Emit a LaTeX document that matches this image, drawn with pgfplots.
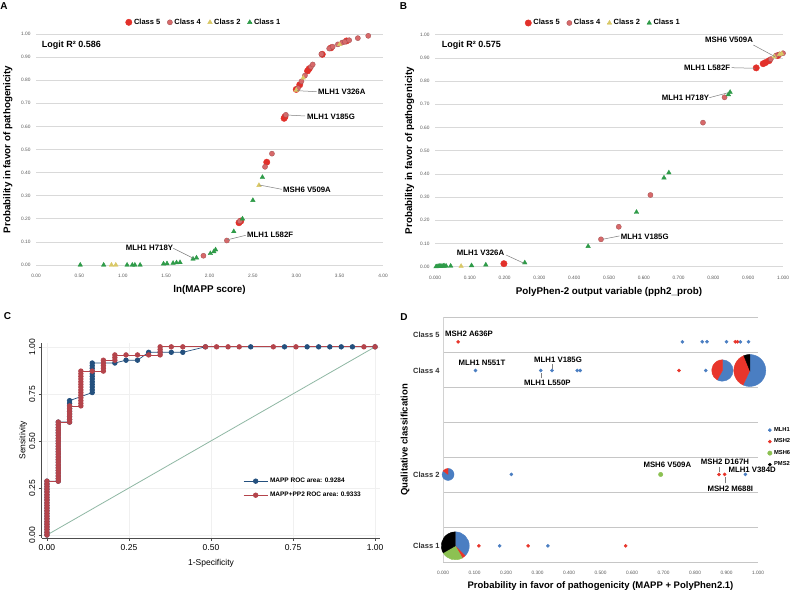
\documentclass[border=0pt]{standalone}
\usepackage{pgfplots}
\pgfplotsset{compat=1.18}
\usepackage{fontspec}
\setmainfont{Liberation Sans}

\definecolor{cfive}{HTML}{E2302A}
\definecolor{cfour}{HTML}{D7696A}
\definecolor{ctwo}{HTML}{D9C866}
\definecolor{cone}{HTML}{2E9B48}
\definecolor{gridc}{HTML}{D9D9D9}
\definecolor{tickc}{HTML}{595959}
\definecolor{rocblue}{HTML}{24507E}
\definecolor{rocred}{HTML}{B4444B}
\definecolor{diagc}{HTML}{8FB8A4}
\definecolor{dblue}{HTML}{4A7EC2}
\definecolor{dred}{HTML}{E8352B}
\definecolor{dgreen}{HTML}{8CC152}
\definecolor{leadc}{HTML}{7F7F7F}

\newcommand\tickfont{\fontsize{4.8}{5}\selectfont}
\newcommand\annfont{\bfseries\fontsize{7.8}{8}\selectfont}
\newcommand\pwedge[4]{\fill[#1] (0,0) -- (#2:#4) arc[start angle=#2, end angle=#3, radius=#4] -- cycle;}

\pgfdeclareplotmark{pieone}{\pwedge{dblue}{90}{-45}{14pt}\pwedge{dred}{-45}{-60}{14pt}\pwedge{dgreen}{-60}{-150}{14pt}\pwedge{black}{-150}{-270}{14pt}}
\pgfdeclareplotmark{pietwo}{\pwedge{dblue}{90}{-216}{6pt}\pwedge{dred}{-216}{-270}{6pt}}
\pgfdeclareplotmark{piefoura}{\pwedge{dblue}{90}{-119}{10.7pt}\pwedge{dred}{-119}{-270}{10.7pt}}
\pgfdeclareplotmark{piefourb}{\pwedge{dblue}{90}{-115}{16pt}\pwedge{dred}{-115}{-248}{16pt}\pwedge{black}{-248}{-270}{16pt}}

\pgfplotsset{
 /pgf/number format/assume math mode=true,
 excel/.style={scale only axis, clip=false, ymin=0, ymax=1,
  axis line style={draw=none}, tick style={draw=none},
  ymajorgrids, major grid style={draw=gridc, line width=0.6pt},
  ytick={0,0.1,0.2,0.3,0.4,0.5,0.6,0.7,0.8,0.9,1},
  yticklabel style={/pgf/number format/fixed, /pgf/number format/fixed zerofill, /pgf/number format/precision=2, xshift=-2pt},
  xticklabel style={yshift=-6pt},
  tick label style={font=\tickfont, text=tickc},
  label style={font=\bfseries\fontsize{9.8}{11}\selectfont},
  legend style={draw=none, fill=none, font=\bfseries\fontsize{7.5}{8}\selectfont, legend columns=4, /tikz/every even column/.append style={column sep=5pt}, inner sep=0pt},
  legend cell align=left,
  legend image code/.code={\path (-2pt,0pt) -- (2pt,0pt); \draw[##1] plot coordinates {(0pt,0pt)};},
 },
 c5/.style={only marks, mark=*, mark size=3.2pt, color=cfive},
 c4/.style={only marks, mark=*, mark size=2.6pt, color=cfour, mark options={draw=cfour!75!black, line width=0.3pt}},
 c2/.style={only marks, mark=triangle*, mark size=2.6pt, color=ctwo},
 c1/.style={only marks, mark=triangle*, mark size=2.6pt, color=cone},
}

\begin{document}
\begin{tikzpicture}
\useasboundingbox (0,0) rectangle (800pt,593pt);
\fill[white] (0,0) rectangle (800pt,593pt);

% ---------------- Panel A ----------------
\begin{axis}[excel, at={(36pt,328pt)}, anchor=south west, width=347pt, height=231pt,
 xmin=0, xmax=4, xtick={0,0.5,1,1.5,2,2.5,3,3.5,4},
 xticklabel style={/pgf/number format/fixed, /pgf/number format/fixed zerofill, /pgf/number format/precision=2},
 xlabel={ln(MAPP score)}, ylabel={Probability in favor of pathogenicity},
 xlabel style={at={(axis description cs:0.5,-0.108)}, anchor=center},
 ylabel style={at={(axis description cs:-0.081,0.5)}, anchor=center},
 legend style={at={(axis description cs:0.484,1.026)}, anchor=south}]
\addplot[c5] coordinates {(2.34,0.183) (2.36,0.19) (2.66,0.445) (2.86,0.635) (2.87,0.642) (3.00,0.760) (3.04,0.780) (3.13,0.840) (3.15,0.850) (3.30,0.912) (3.40,0.940) (3.58,0.970)};
\addlegendentry{Class 5}
\addplot[c4] coordinates {(1.93,0.040) (2.20,0.106) (2.35,0.19) (2.64,0.425) (2.72,0.482) (2.88,0.650) (3.02,0.765) (3.06,0.795) (3.10,0.820) (3.17,0.858) (3.19,0.868) (3.29,0.913) (3.38,0.937) (3.42,0.945) (3.48,0.955) (3.53,0.963) (3.56,0.966) (3.61,0.973) (3.71,0.982) (3.83,0.992)};
\addlegendentry{Class 4}
\addplot[c2] coordinates {(0.87,0) (0.92,0) (2.57,0.345) (3.00,0.757) (3.08,0.810) (3.50,0.955)};
\addlegendentry{Class 2}
\addplot[c1] coordinates {(0.51,0) (0.78,0) (1.05,0) (1.11,0) (1.14,0) (1.20,0) (1.47,0.005) (1.51,0.006) (1.58,0.008) (1.62,0.010) (1.66,0.011) (1.81,0.026) (1.85,0.031) (2.01,0.05) (2.05,0.058) (2.07,0.066) (2.28,0.145) (2.38,0.20) (2.50,0.28) (2.61,0.38)};
\addlegendentry{Class 1}
\end{axis}

% ---------------- Panel B ----------------
\begin{axis}[excel, at={(435pt,326.3pt)}, anchor=south west, width=348pt, height=232pt,
 xmin=0, xmax=1, xtick={0,0.1,0.2,0.3,0.4,0.5,0.6,0.7,0.8,0.9,1},
 xticklabel style={/pgf/number format/fixed, /pgf/number format/fixed zerofill, /pgf/number format/precision=3},
 xlabel={PolyPhen-2 output variable (pph2\_prob)}, ylabel={Probability in favor of pathogenicity},
 xlabel style={at={(axis description cs:0.5,-0.108)}, anchor=center},
 ylabel style={at={(axis description cs:-0.073,0.5)}, anchor=center},
 legend style={at={(axis description cs:0.484,1.026)}, anchor=south}]
\addplot[c5] coordinates {(0.198,0.013) (0.923,0.857) (0.943,0.875) (0.950,0.880) (0.960,0.888) (0.985,0.910)};
\addlegendentry{Class 5}
\addplot[c4] coordinates {(0.477,0.118) (0.528,0.172) (0.619,0.309) (0.770,0.621) (0.832,0.730) (0.965,0.895) (0.980,0.910) (0.990,0.915) (1.0,0.920)};
\addlegendentry{Class 4}
\addplot[c2] coordinates {(0.075,0.002) (0.975,0.905) (0.990,0.915) (0.996,0.918)};
\addlegendentry{Class 2}
\addplot[c1] coordinates {(0.003,0) (0.006,0.001) (0.010,0.001) (0.013,0.002) (0.016,0.002) (0.020,0.003) (0.024,0.003) (0.028,0.003) (0.032,0.003) (0.045,0.003) (0.105,0.005) (0.146,0.008) (0.258,0.017) (0.440,0.088) (0.579,0.235) (0.658,0.383) (0.672,0.405) (0.843,0.742) (0.848,0.752)};
\addlegendentry{Class 1}
\end{axis}

% ---------------- Panel C ----------------
\begin{axis}[scale only axis, clip=false, at={(41.7pt,55pt)}, anchor=south west, width=338.6pt, height=195.3pt,
 xmin=-0.016, xmax=1.016, ymin=-0.016, ymax=1.022,
 axis x line*=bottom, axis y line*=left, axis line style={draw=gray!60!black, line width=0.6pt, -},
 xtick={0,0.25,0.5,0.75,1}, ytick={0,0.25,0.5,0.75,1},
 tick align=outside, major tick length=3pt, tick style={gray!60!black, line width=0.6pt},
 grid=major, major grid style={draw=gray!12},
 tick label style={font=\fontsize{8.5}{9}\selectfont, /pgf/number format/fixed, /pgf/number format/fixed zerofill, /pgf/number format/precision=2},
 yticklabel style={rotate=90, anchor=south},
 xlabel={1-Specificity}, ylabel={Sensitivity}, label style={font=\fontsize{8.5}{9}\selectfont},
 xlabel style={at={(axis description cs:0.5,-0.128)}, anchor=center},
 ylabel style={at={(axis description cs:-0.055,0.5)}, anchor=center},
 legend style={at={(axis description cs:0.586,0.328)}, anchor=north west, draw=none, fill=none, font=\bfseries\fontsize{6.5}{7}\selectfont, row sep=4pt},
 legend cell align=left,
 legend image code/.code={\draw[mark repeat=2, mark phase=2, #1] plot coordinates {(0pt,0pt) (12pt,0pt) (24pt,0pt)};}]
\addplot[diagc, line width=0.8pt, forget plot] coordinates {(0,0) (1,1)};
\addplot[rocblue, line width=0.7pt, mark=*, mark size=2.3pt] coordinates {
(0,0) (0,0.014) (0,0.029) (0,0.043) (0,0.057) (0,0.071) (0,0.086) (0,0.1) (0,0.114) (0,0.129) (0,0.143) (0,0.157) (0,0.171) (0,0.186) (0,0.2) (0,0.214) (0,0.229) (0,0.243) (0,0.257) (0,0.271) (0,0.286)
(0.0345,0.286) (0.0345,0.3) (0.0345,0.314) (0.0345,0.329) (0.0345,0.343) (0.0345,0.357) (0.0345,0.371) (0.0345,0.386) (0.0345,0.4) (0.0345,0.414) (0.0345,0.429) (0.0345,0.443) (0.0345,0.457) (0.0345,0.471) (0.0345,0.486) (0.0345,0.5) (0.0345,0.514) (0.0345,0.529) (0.0345,0.543) (0.0345,0.557) (0.0345,0.571) (0.0345,0.586) (0.0345,0.6)
(0.069,0.6) (0.069,0.614) (0.069,0.629) (0.069,0.643) (0.069,0.657) (0.069,0.671) (0.069,0.686) (0.069,0.7) (0.069,0.714)
(0.138,0.757) (0.138,0.771) (0.138,0.786) (0.138,0.8) (0.138,0.814) (0.138,0.829) (0.138,0.843) (0.138,0.857) (0.138,0.871) (0.138,0.886) (0.138,0.9) (0.138,0.914)
(0.207,0.914) (0.241,0.929) (0.276,0.929) (0.310,0.971) (0.345,0.971) (0.379,0.971) (0.414,0.971) (0.483,1) (0.621,1) (0.724,1) (0.793,1) (0.828,1) (0.862,1) (0.897,1) (0.931,1) (1,1)};
\addlegendentry{MAPP ROC area: 0.9284}
\addplot[rocred, line width=0.7pt, mark=*, mark size=2.3pt] coordinates {
(0,0) (0,0.014) (0,0.029) (0,0.043) (0,0.057) (0,0.071) (0,0.086) (0,0.1) (0,0.114) (0,0.129) (0,0.143) (0,0.157) (0,0.171) (0,0.186) (0,0.2) (0,0.214) (0,0.229) (0,0.243) (0,0.257) (0,0.271) (0,0.286)
(0.0345,0.286) (0.0345,0.3) (0.0345,0.314) (0.0345,0.329) (0.0345,0.343) (0.0345,0.357) (0.0345,0.371) (0.0345,0.386) (0.0345,0.4) (0.0345,0.414) (0.0345,0.429) (0.0345,0.443) (0.0345,0.457) (0.0345,0.471) (0.0345,0.486) (0.0345,0.5) (0.0345,0.514) (0.0345,0.529) (0.0345,0.543) (0.0345,0.557) (0.0345,0.571) (0.0345,0.586) (0.0345,0.6)
(0.069,0.6) (0.069,0.614) (0.069,0.629) (0.069,0.643) (0.069,0.657) (0.069,0.671) (0.069,0.686)
(0.1034,0.686) (0.1034,0.7) (0.1034,0.714) (0.1034,0.729) (0.1034,0.743) (0.1034,0.757) (0.1034,0.771) (0.1034,0.786) (0.1034,0.8) (0.1034,0.814) (0.1034,0.829) (0.1034,0.843) (0.1034,0.857) (0.1034,0.871)
(0.138,0.871) (0.172,0.871) (0.172,0.886) (0.172,0.9) (0.172,0.914) (0.172,0.929)
(0.207,0.929) (0.207,0.943) (0.207,0.957) (0.241,0.957) (0.276,0.957) (0.310,0.957)
(0.345,0.957) (0.345,0.971) (0.345,0.986) (0.345,1) (0.379,1) (0.414,1) (0.483,1) (0.517,1) (0.552,1) (0.586,1) (0.690,1) (0.759,1) (0.966,1) (1,1)};
\addlegendentry{MAPP+PP2 ROC area: 0.9333}
\end{axis}

% ---------------- Panel D ----------------
\begin{axis}[scale only axis, clip=false, at={(443pt,30.7pt)}, anchor=south west, width=315pt, height=245pt,
 xmin=0, xmax=1, ymin=0, ymax=7,
 axis line style={draw=none}, tick style={draw=none},
 xtick={0,0.1,0.2,0.3,0.4,0.5,0.6,0.7,0.8,0.9,1},
 xticklabel style={/pgf/number format/fixed, /pgf/number format/fixed zerofill, /pgf/number format/precision=3, yshift=-5.5pt},
 ytick={0,1,2,3,4,5,6,7}, yticklabels={,,,,,,,},
 ymajorgrids, major grid style={draw=gray!45, line width=0.6pt},
 extra y ticks={0.47,2.51,5.48,6.51}, extra y tick labels={Class 1,Class 2,Class 4,Class 5},
 extra y tick style={major grid style={draw=none}, yticklabel style={font=\bfseries\fontsize{7.5}{8}\selectfont, text=black!80}},
 extra x ticks={0}, extra x tick labels={}, extra x tick style={xmajorgrids=true, major grid style={draw=gray!35, line width=0.6pt}},
 tick label style={font=\tickfont, text=tickc},
 xlabel={Probability in favor of pathogenicity (MAPP + PolyPhen2.1)}, ylabel={Qualitative classification},
 label style={font=\bfseries\fontsize{9.5}{11}\selectfont},
 xlabel style={at={(axis description cs:0.5,-0.097)}, anchor=center},
 ylabel style={at={(axis description cs:-0.12,0.5)}, anchor=center},
 legend style={at={(axis description cs:1.03,0.56)}, anchor=north west, draw=none, fill=none, font=\bfseries\fontsize{5.8}{6}\selectfont, row sep=2pt, inner sep=0pt},
 legend cell align=left,
 legend image code/.code={\path (-1.5pt,0pt) -- (1.5pt,0pt); \draw[#1] plot coordinates {(0pt,0pt)};}]
\addplot[only marks, mark=*, mark size=1.6pt, color=dblue] coordinates {(0.760,6.3) (0.823,6.3) (0.838,6.3) (0.900,6.3) (0.944,6.3) (0.970,6.3) (0.103,5.48) (0.310,5.48) (0.346,5.48) (0.426,5.48) (0.436,5.48) (0.834,5.48) (0.217,2.51) (0.960,2.51) (0.180,0.47) (0.333,0.47)};
\addlegendentry{MLH1}
\addplot[only marks, mark=*, mark size=1.6pt, color=dred] coordinates {(0.048,6.3) (0.928,6.3) (0.935,6.3) (0.749,5.48) (0.876,2.51) (0.894,2.51) (0.114,0.47) (0.270,0.47) (0.580,0.47)};
\addlegendentry{MSH2}
\addplot[only marks, mark=*, mark size=2.2pt, color=dgreen] coordinates {(0.691,2.51)};
\addlegendentry{MSH6}
\addlegendimage{only marks, mark=*, mark size=1.6pt, black}
\addlegendentry{PMS2}
\addplot[only marks, mark=pieone, forget plot] coordinates {(0.039,0.47)};
\addplot[only marks, mark=pietwo, forget plot] coordinates {(0.016,2.51)};
\addplot[only marks, mark=piefoura, forget plot] coordinates {(0.887,5.48)};
\addplot[only marks, mark=piefourb, forget plot] coordinates {(0.974,5.48)};
\end{axis}

% ---------------- annotations ----------------
\begin{scope}[every node/.style={font=\annfont, inner sep=0pt}]
% A
\node[font=\bfseries\fontsize{10}{11}\selectfont] at (4pt,587pt) {A};
\node[anchor=west, font=\bfseries\fontsize{9}{10}\selectfont] at (41.7pt,547.3pt) {Logit R² 0.586};
\draw[leadc, line width=0.5pt] (297pt,502.3pt) -- (316.7pt,501.3pt);
\node[anchor=west] at (318pt,501pt) {MLH1 V326A};
\draw[leadc, line width=0.5pt] (286.7pt,478pt) -- (305pt,477pt);
\node[anchor=west] at (307pt,476pt) {MLH1 V185G};
\draw[leadc, line width=0.5pt] (259.3pt,408pt) -- (281.7pt,403.7pt);
\node[anchor=west] at (283pt,403.5pt) {MSH6 V509A};
\draw[leadc, line width=0.5pt] (226.7pt,353pt) -- (245.7pt,357.7pt);
\node[anchor=west] at (247pt,358pt) {MLH1 L582F};
\draw[leadc, line width=0.5pt] (173.3pt,344.7pt) -- (193.3pt,334.7pt);
\node[anchor=east] at (173.3pt,344.7pt) {MLH1 H718Y};
% B
\node[font=\bfseries\fontsize{10}{11}\selectfont] at (403.5pt,587pt) {B};
\node[anchor=west, font=\bfseries\fontsize{9}{10}\selectfont] at (441.7pt,547.3pt) {Logit R² 0.575};
\draw[leadc, line width=0.5pt] (753.3pt,548pt) -- (775pt,536.3pt);
\node[anchor=west] at (705pt,553pt) {MSH6 V509A};
\draw[leadc, line width=0.5pt] (731.7pt,525.3pt) -- (755pt,524.7pt);
\node[anchor=west] at (684pt,525.3pt) {MLH1 L582F};
\draw[leadc, line width=0.5pt] (709.3pt,495.3pt) -- (728.3pt,500.3pt);
\node[anchor=west] at (661.7pt,495.3pt) {MLH1 H718Y};
\draw[leadc, line width=0.5pt] (602.7pt,353.7pt) -- (619.3pt,357pt);
\node[anchor=west] at (620.7pt,356.3pt) {MLH1 V185G};
\draw[leadc, line width=0.5pt] (506pt,338pt) -- (524pt,329.7pt);
\node[anchor=west] at (456.7pt,339.7pt) {MLH1 V326A};
% C
\node[font=\bfseries\fontsize{10}{11}\selectfont] at (7.5pt,277pt) {C};
% D
\node[font=\bfseries\fontsize{10}{11}\selectfont] at (404pt,275.5pt) {D};
\node[anchor=west] at (445pt,258.7pt) {MSH2 A636P};
\node[anchor=west] at (458.3pt,229.7pt) {MLH1 N551T};
\draw[leadc, line width=0.5pt] (552.3pt,229pt) -- (552.3pt,224pt);
\node[anchor=west] at (534pt,233pt) {MLH1 V185G};
\draw[leadc, line width=0.5pt] (541pt,214.7pt) -- (541pt,220.3pt);
\node[anchor=west] at (524pt,210.3pt) {MLH1 L550P};
\node[anchor=west] at (643.3pt,127.7pt) {MSH6 V509A};
\draw[leadc, line width=0.5pt] (719.3pt,126.3pt) -- (719.3pt,121.3pt);
\node[anchor=west] at (700.7pt,131pt) {MSH2 D167H};
\node[anchor=west] at (728.3pt,123pt) {MLH1 V384D};
\draw[leadc, line width=0.5pt] (725pt,109.7pt) -- (725pt,116.3pt);
\node[anchor=west] at (707.3pt,104.3pt) {MSH2 M688I};
\end{scope}
\end{tikzpicture}
\end{document}
